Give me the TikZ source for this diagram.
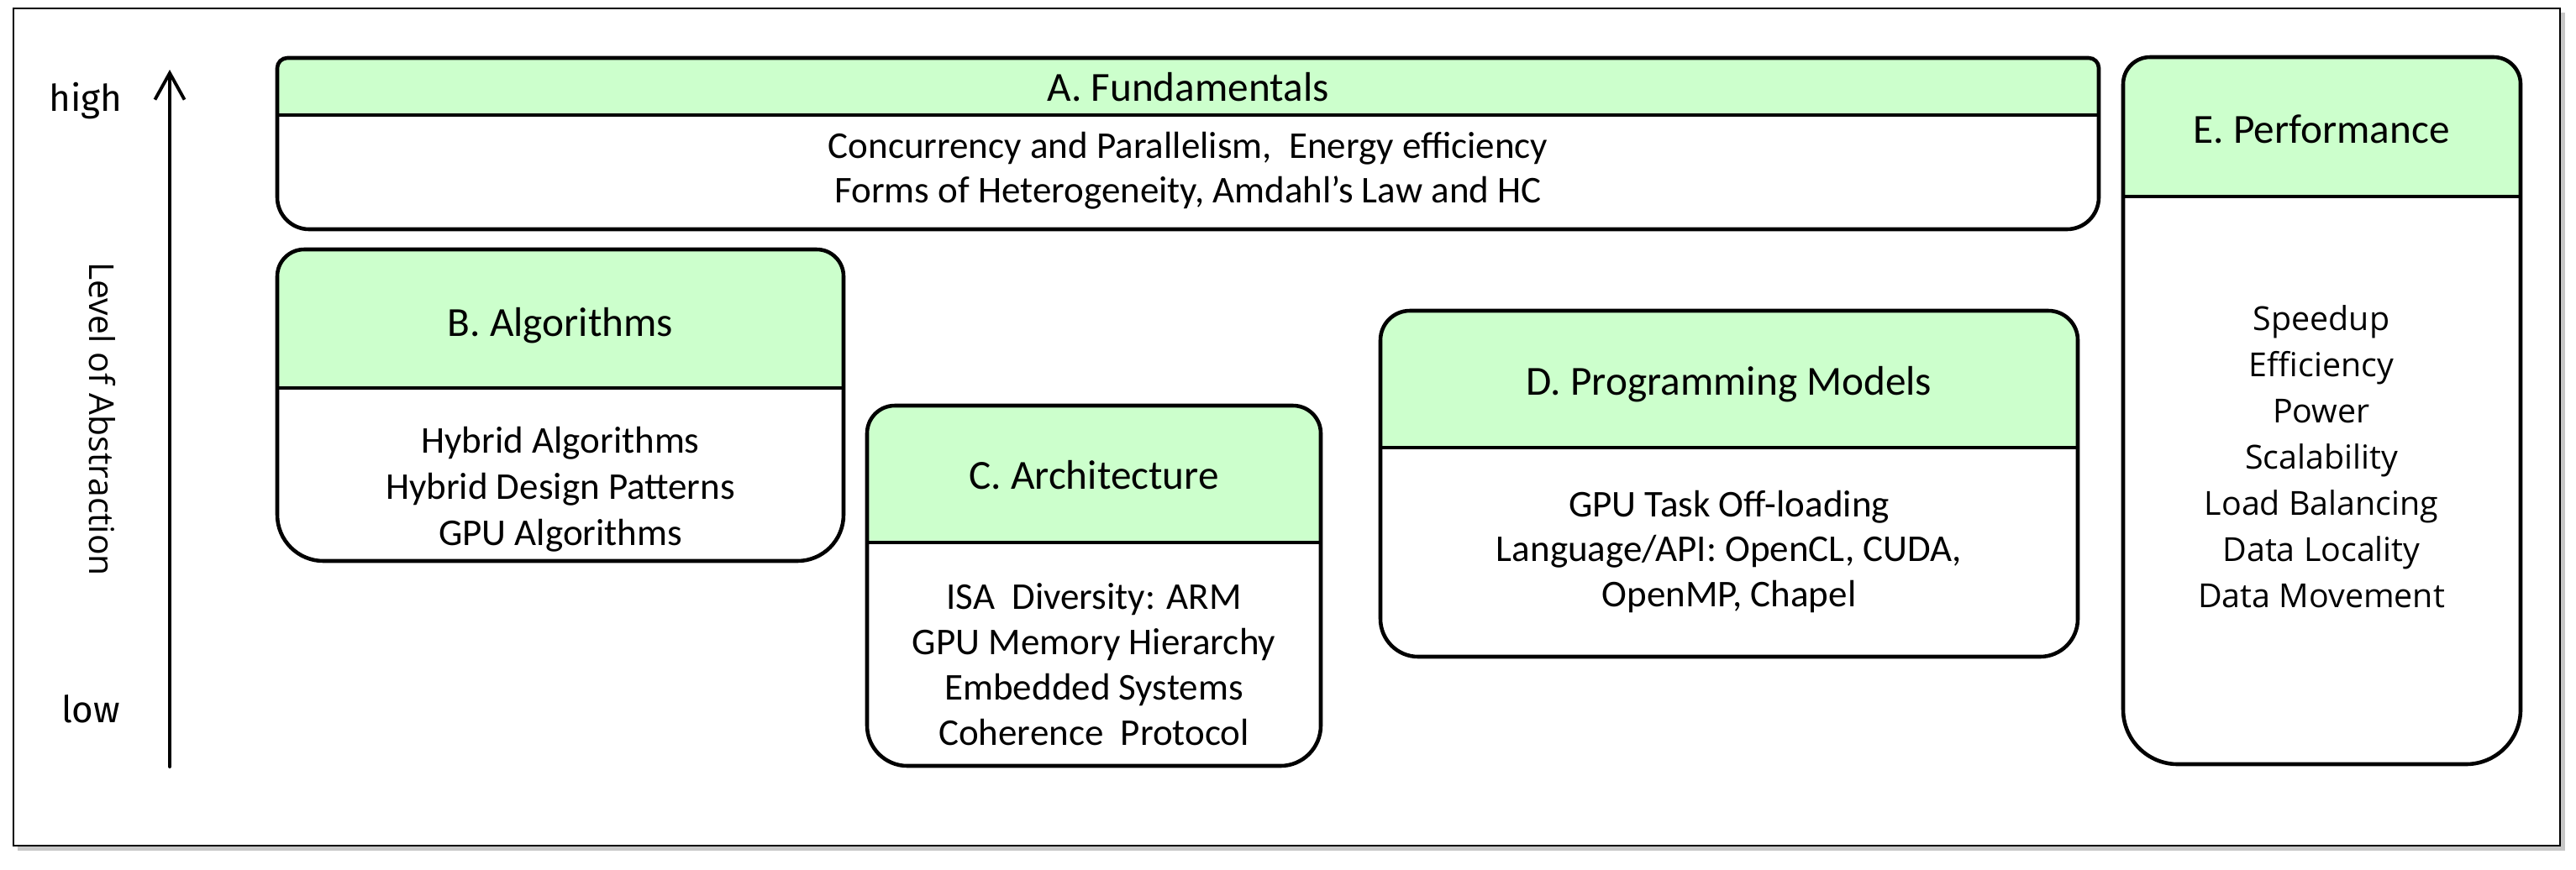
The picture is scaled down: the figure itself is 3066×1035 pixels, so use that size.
\documentclass[tikz,border=0pt]{standalone}
\usepackage{fontspec}
\setmainfont{Carlito}
\newfontfamily\axisfont{Fira Sans}
\newfontfamily\metricfont{Open Sans}
\usepackage{tikz}
\usetikzlibrary{arrows.meta}

\definecolor{headgreen}{RGB}{204,255,204}

% box with a green head band: name, left, top, right, bottom, band line, top radius, bottom radius (px)
\newcommand{\topicbox}[8]{%
  \def\boxoutline{(#2,#3+#7) arc[start angle=180,end angle=90,radius=#7*0.01cm]
    -- (#4-#7,#3) arc[start angle=90,end angle=0,radius=#7*0.01cm]
    -- (#4,#5-#8) arc[start angle=0,end angle=-90,radius=#8*0.01cm]
    -- (#2+#8,#5) arc[start angle=270,end angle=180,radius=#8*0.01cm] -- cycle}%
  \begin{scope}
    \clip \boxoutline;
    \fill[headgreen] (#2,#3) rectangle (#4,#6);
  \end{scope}
  \draw[boxline] \boxoutline;
  \draw[boxline] (#2,#6) -- (#4,#6);
  \coordinate (#1-split) at ({(#2+#4)/2},#6);
}

\begin{document}
\begin{tikzpicture}[x=0.01cm, y=-0.01cm,
    boxline/.style={line width=1.3pt, black},
    headtext/.style={font=\fontsize{14}{17}\selectfont, anchor=base, inner sep=0pt},
    itemtext/.style={font=\fontsize{12.8}{15}\selectfont, anchor=base, inner sep=0pt},
    metrictext/.style={font=\metricfont\fontsize{11.2}{13}\selectfont, anchor=base, inner sep=0pt},
    axistext/.style={font=\axisfont\fontsize{12.5}{15}\selectfont, anchor=base, inner sep=0pt}]
    \useasboundingbox (0,0) rectangle (3066,1035);

    % frame with its shadow
    \fill[black!22] (21,15) rectangle (3053,1013);
    \filldraw[fill=white, draw=black, line width=0.6pt] (16,10) rectangle (3047,1007);

    % level of abstraction axis
    \coordinate (axis-low) at (202,913);
    \coordinate (axis-high) at (202,83);
    \draw[line width=1.1pt, line cap=round, -{Straight Barb[length=9pt,width=10pt]}] (axis-low) -- (axis-high);
    \node[axistext] (high) at (102,132) {high};
    \node[axistext] (low) at (108,860) {low};
    \node[font=\metricfont\fontsize{11.6}{14}\selectfont, rotate=-90] (level) at (122,499) {Level of Abstraction};

    \topicbox{A}{330}{69}{2498}{273}{137}{12}{38}
    \topicbox{B}{330}{297}{1004}{668}{462}{32}{55}
    \topicbox{C}{1032}{483}{1572}{912}{646}{33}{48}
    \topicbox{D}{1643}{370}{2473}{782}{533}{35}{45}
    \topicbox{E}{2527}{68}{3000}{910}{234}{32}{65}

    \node[headtext] (A-title) at (1414,120) {A. Fundamentals};
    \node[headtext] (B-title) at (667,400) {B. Algorithms};
    \node[headtext] (C-title) at (1302,582) {C. Architecture};
    \node[headtext] (D-title) at (2058,470) {D. Programming Models};
    \node[headtext] (E-title) at (2763,170) {E. Performance};

    \foreach \txt [count=\i] in {{Concurrency and Parallelism,\ \ Energy efficiency},
        {Forms of Heterogeneity, Amdahl’s Law and HC}}
        \node[itemtext] (A-item\i) at (1414,{188+53*(\i-1)}) {\txt};
    \foreach \txt [count=\i] in {Hybrid Algorithms, Hybrid Design Patterns, GPU Algorithms}
        \node[itemtext] (B-item\i) at (667,{539+55*(\i-1)}) {\txt};
    \foreach \txt [count=\i] in {ISA\ \ Diversity: ARM, GPU Memory Hierarchy, Embedded Systems, Coherence\ \ Protocol}
        \node[itemtext] (C-item\i) at (1302,{725+54.3*(\i-1)}) {\txt};
    \foreach \txt [count=\i] in {GPU Task Off-loading, {Language/API: OpenCL, CUDA,}, {OpenMP, Chapel}}
        \node[itemtext] (D-item\i) at (2058,{615+53.5*(\i-1)}) {\txt};
    \foreach \txt [count=\i] in {Speedup, Efficiency, Power, Scalability, Load Balancing, Data Locality, Data Movement}
        \node[metrictext] (E-item\i) at (2763,{393+55*(\i-1)}) {\txt};
\end{tikzpicture}
\end{document}
